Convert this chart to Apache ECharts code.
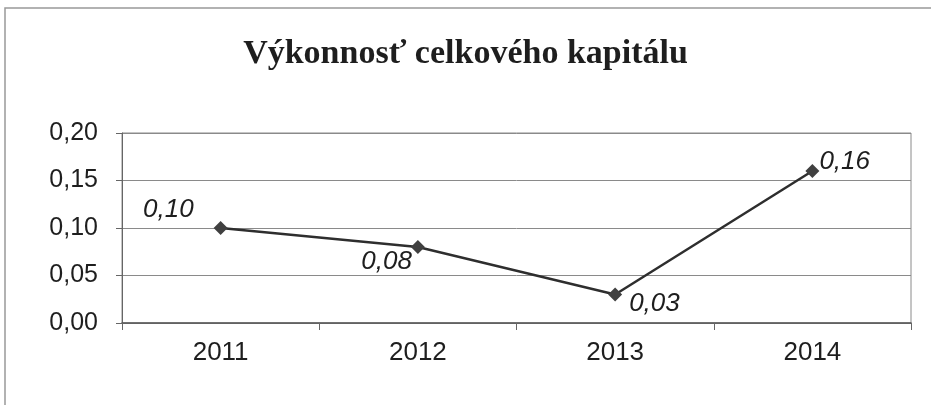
<!DOCTYPE html>
<html>
<head>
<meta charset="utf-8">
<title>Výkonnosť celkového kapitálu</title>
<script src="https://cdn.jsdelivr.net/npm/echarts@6/dist/echarts.min.js"></script>
<style>
  html, body { margin: 0; padding: 0; background: #fff; }
  #chart { width: 931px; height: 405px; }
</style>
</head>
<body>
<div id="chart"></div>
<script>
// data
const years = ['2011', '2012', '2013', '2014']
const values = [0.10, 0.08, 0.03, 0.16]
const yTicks = [0, 0.05, 0.10, 0.15, 0.20]

// where each value label sits around its marker
const labelPlace = [
  { position: 'left', distance: 20, offset: [0, -18] },
  { position: 'left', distance: 0, offset: [1, 15] },
  { position: 'right', distance: 7, offset: [0, 9] },
  { position: 'right', distance: 0, offset: [0, -9] }
]

const fmt = v => v.toFixed(2).replace('.', ',')

const chart = echarts.init(document.getElementById('chart'))

const option = {
  backgroundColor: '#fff',
  animation: false,
  title: {
    text: 'Výkonnosť celkového kapitálu',
    left: 'center',
    top: 32,
    textStyle: {
      fontFamily: '"Liberation Serif", "Times New Roman", serif',
      fontWeight: 'bold',
      fontSize: 34,
      color: '#1e1e1e'
    }
  },
  graphic: [
    {
      // outer chart frame (right and bottom edge run off the photo)
      type: 'rect',
      shape: { x: 5, y: 8, width: 1000, height: 1000 },
      style: { fill: 'none', stroke: '#999', lineWidth: 1.5 },
      silent: true
    }
  ],
  grid: {
    left: 122,
    right: 20,
    top: 133,
    bottom: 82,
    show: true,
    borderColor: '#8a8a8a',
    borderWidth: 1,
    backgroundColor: 'transparent'
  },
  xAxis: {
    type: 'category',
    data: years,
    boundaryGap: true,
    axisLine: { lineStyle: { color: '#555', width: 1.5 } },
    axisTick: { show: true, alignWithLabel: false, length: 7, lineStyle: { color: '#666' } },
    axisLabel: {
      margin: 17,
      color: '#1e1e1e',
      fontSize: 26,
      fontFamily: '"Liberation Sans", Arial, sans-serif'
    },
    splitLine: { show: false }
  },
  yAxis: {
    type: 'value',
    min: yTicks[0],
    max: yTicks[yTicks.length - 1],
    interval: 0.05,
    axisLine: { show: true, lineStyle: { color: '#666', width: 1 } },
    axisTick: { show: true, length: 6, lineStyle: { color: '#666' } },
    axisLabel: {
      margin: 24,
      color: '#1e1e1e',
      fontSize: 25,
      fontFamily: '"Liberation Sans", Arial, sans-serif',
      formatter: fmt
    },
    splitLine: { show: true, lineStyle: { color: '#8a8a8a', width: 1 } }
  },
  series: [
    {
      type: 'line',
      data: values.map((v, i) => ({
        value: v,
        label: Object.assign({ show: true }, labelPlace[i])
      })),
      symbol: 'diamond',
      symbolSize: 14,
      lineStyle: { color: '#2e2e2e', width: 2.5 },
      itemStyle: { color: '#404040' },
      label: {
        show: true,
        formatter: p => fmt(p.value),
        fontSize: 26,
        fontStyle: 'italic',
        fontFamily: '"Liberation Sans", Arial, sans-serif',
        color: '#1e1e1e'
      }
    }
  ]
}

chart.setOption(option)
</script>
</body>
</html>
